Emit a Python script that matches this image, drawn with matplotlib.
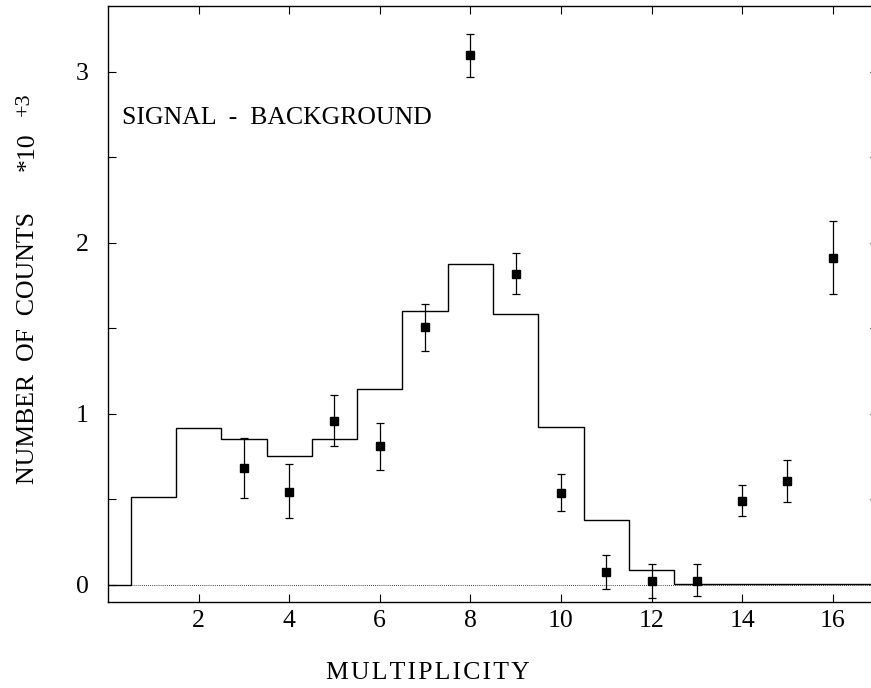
import numpy as np
import matplotlib
matplotlib.use("Agg")
import matplotlib.pyplot as plt

# Histogram (simulation) values, bins centred on integer multiplicities 0..16
hist_edges = [-0.5, 0.5, 1.5, 2.5, 3.5, 4.5, 5.5, 6.5, 7.5, 8.5, 9.5, 10.5,
              11.5, 12.5, 13.5, 14.5, 15.5, 17.0]
hist_values = [0.0, 0.515, 0.92, 0.855, 0.755, 0.855, 1.146, 1.60, 1.877,
               1.585, 0.924, 0.38, 0.09, 0.008, 0.008, 0.008, 0.008]

# Data points (signal - background), in units of 10^3 counts
data_x = [3, 4, 5, 6, 7, 8, 9, 10, 11, 12, 13, 14, 15, 16]
data_y = [0.685, 0.545, 0.96, 0.81, 1.51, 3.10, 1.82, 0.54, 0.075, 0.023,
          0.022, 0.49, 0.605, 1.91]
err_lo = [0.175, 0.155, 0.15, 0.14, 0.14, 0.13, 0.12, 0.11, 0.10, 0.10,
          0.085, 0.09, 0.12, 0.21]
err_hi = [0.175, 0.16, 0.15, 0.135, 0.13, 0.12, 0.12, 0.11, 0.10, 0.10,
          0.10, 0.095, 0.125, 0.22]

x_ticks = [2, 4, 6, 8, 10, 12, 14, 16]
y_ticks_major = [0, 1, 2, 3]
y_ticks_all = [0, 0.5, 1, 1.5, 2, 2.5, 3]

FONT = "Liberation Serif"
FS = 18.5
W, H = 871, 688
fig = plt.figure(figsize=(W / 100, H / 100), dpi=100)
left, right, top, bottom = 108, 878, 6, 602
ax = fig.add_axes([left / W, (H - bottom) / H, (right - left) / W, (bottom - top) / H])

ax.stairs(hist_values, hist_edges, baseline=None, color="black", linewidth=1.0)
ax.plot([0.5, 17], [0, 0], linestyle=(0, (1, 1.5)), color="black", linewidth=0.6)
ax.errorbar(data_x, data_y, yerr=[err_lo, err_hi], fmt="s", color="black",
            markersize=6, capsize=3, elinewidth=0.9, capthick=0.9)

ax.set_xlim(0, 17)
ax.set_ylim(-0.1, 3.385)
ax.set_xticks(x_ticks)
ax.set_xticklabels([str(v) for v in x_ticks])
ax.set_yticks(y_ticks_all)
ax.set_yticklabels([str(v) if v in y_ticks_major else "" for v in y_ticks_all])
ax.tick_params(direction="in", top=True, right=True, length=6, width=0.8,
               labelsize=FS)
ax.tick_params(axis="x", pad=6)
ax.tick_params(axis="y", pad=14)
for lab in ax.get_xticklabels() + ax.get_yticklabels():
    lab.set_fontfamily(FONT)
for s in ax.spines.values():
    s.set_linewidth(1.0)

fig.text(122 / W, 1 - 118 / H, "SIGNAL  -  BACKGROUND", fontsize=FS, family=FONT,
         ha="left", va="center")
fig.text(428 / W, 1 - 673 / H, "\u200a".join("MULTIPLICITY"),
         fontsize=FS, family=[FONT, "DejaVu Serif"], ha="center", va="center")
fig.text(28 / W, 1 - 348 / H, "NUMBER  OF  COUNTS", fontsize=FS, family=FONT,
         ha="center", va="center", rotation=90)
fig.text(28 / W, 1 - 152 / H, "*10", fontsize=FS, family=FONT,
         ha="center", va="center", rotation=90)
fig.text(24 / W, 1 - 104 / H, "+3", fontsize=16, family=FONT,
         ha="center", va="center", rotation=90)

fig.savefig("out.png", dpi=100)
